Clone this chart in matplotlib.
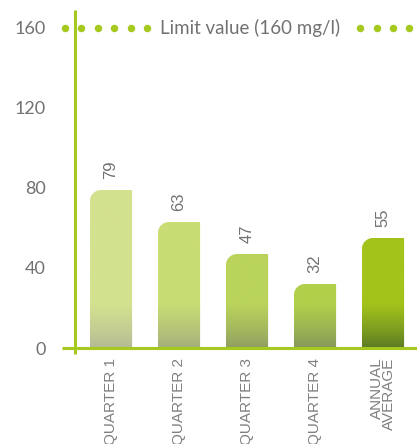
import numpy as np
import matplotlib
matplotlib.use("Agg")
import matplotlib.pyplot as plt
from matplotlib.path import Path
from matplotlib.patches import PathPatch
from matplotlib.colors import to_rgb

# Data
categories = ["QUARTER 1", "QUARTER 2", "QUARTER 3", "QUARTER 4", "ANNUAL\nAVERAGE"]
values = [79, 63, 47, 32, 55]
limit_value = 160
limit_label = "Limit value (160 mg/l)"
y_ticks = [0, 40, 80, 120, 160]

# Styling
top_colors = ["#d3e28f", "#c8dd74", "#bad45b", "#b2d04a", "#a3c31b"]
bottom_colors = ["#b3b996", "#a3ad7c", "#8e9c62", "#84955c", "#587726"]
axis_green = "#a6c91f"
text_grey = "#727272"
label_grey = "#808080"

W, H = 417, 444
fig = plt.figure(figsize=(W / 100, H / 100), dpi=100)
ax = fig.add_axes([75 / W, (H - 348) / H, (W - 75) / W, 320 / H])
ax.set_xlim(-0.53, 4.5)
ax.set_ylim(0, 160)
for s in ax.spines.values():
    s.set_visible(False)

x = np.arange(len(values))
bar_w = 0.62
bars = ax.bar(x, values, width=bar_w, color="none", edgecolor="none")

# Pixel scale for the rounded corner and bottom fade
px_x = ax.transData.transform((1, 0))[0] - ax.transData.transform((0, 0))[0]
px_y = ax.transData.transform((0, 1))[1] - ax.transData.transform((0, 0))[1]
r_px = 11
rx, ry = r_px / px_x, r_px / px_y
fade = 44 / px_y
k = 0.5523

for b, ct, cb in zip(bars, top_colors, bottom_colors):
    x0 = b.get_x()
    x1 = x0 + b.get_width()
    h = b.get_height()
    verts = [(x0, 0), (x1, 0), (x1, h), (x0 + rx, h),
             (x0 + rx * (1 - k), h), (x0, h - ry * (1 - k)), (x0, h - ry),
             (x0, 0)]
    codes = [Path.MOVETO, Path.LINETO, Path.LINETO, Path.LINETO,
             Path.CURVE4, Path.CURVE4, Path.CURVE4, Path.CLOSEPOLY]
    patch = PathPatch(Path(verts, codes), facecolor="none", edgecolor="none")
    ax.add_patch(patch)
    ys = np.linspace(0, h, 200)
    t = np.clip(ys / fade, 0, 1)[:, None] ** 0.8
    img = np.array(to_rgb(cb)) * (1 - t) + np.array(to_rgb(ct)) * t
    im = ax.imshow(img[:, None, :], extent=(x0, x1, 0, h), origin="lower",
                   aspect="auto", interpolation="bilinear", zorder=2)
    im.set_clip_path(patch)
    ax.annotate(str(int(h)), (b.get_x() + b.get_width() / 2, h),
                xytext=(0, 8), textcoords="offset points", rotation=90,
                ha="center", va="bottom", fontsize=12, color=text_grey,
                family="Liberation Sans")

ax.set_xlim(-0.53, 4.5)
ax.set_ylim(0, 160)

# Axis lines
ax.plot([-13 / (W - 75), 1], [0, 0], transform=ax.get_yaxis_transform(),
        color=axis_green, lw=2.2, clip_on=False, zorder=3, solid_capstyle="butt")
ax.plot([0, 0], [-3, 169], transform=ax.get_yaxis_transform(),
        color=axis_green, lw=2.2, clip_on=False, zorder=3, solid_capstyle="butt")

# Limit line drawn as a row of round dots, evenly spaced in pixels
ax_w_px = W - 75
dot_px = np.arange(-10, ax_w_px, 16.4)
ax.plot(dot_px / ax_w_px, np.full(dot_px.shape, limit_value),
        transform=ax.get_yaxis_transform(), linestyle="none", marker="o",
        markersize=5.4, markeredgewidth=0, color=axis_green, clip_on=False,
        zorder=3)
lim_x = (160 - 75) / ax_w_px
ax.text(lim_x, limit_value, limit_label, transform=ax.get_yaxis_transform(),
        ha="left", va="center", fontsize=13.5, color=text_grey, family="Lato",
        zorder=4,
        bbox=dict(boxstyle="square,pad=0.45", facecolor="white", edgecolor="none"))

# Ticks
ax.set_yticks(y_ticks)
ax.set_yticklabels([str(v) for v in y_ticks], family="Lato",
                   fontsize=13, color=text_grey)
ax.tick_params(axis="y", length=0, pad=21)
ax.set_xticks(x)
ax.set_xticklabels(categories, rotation=90, ha="center", va="top",
                   family="Liberation Sans", fontsize=11, color=label_grey,
                   linespacing=0.9)
for t in ax.get_xticklabels():
    t.set_multialignment("right")
ax.tick_params(axis="x", length=0, pad=7)

fig.savefig("out.png", dpi=100)
